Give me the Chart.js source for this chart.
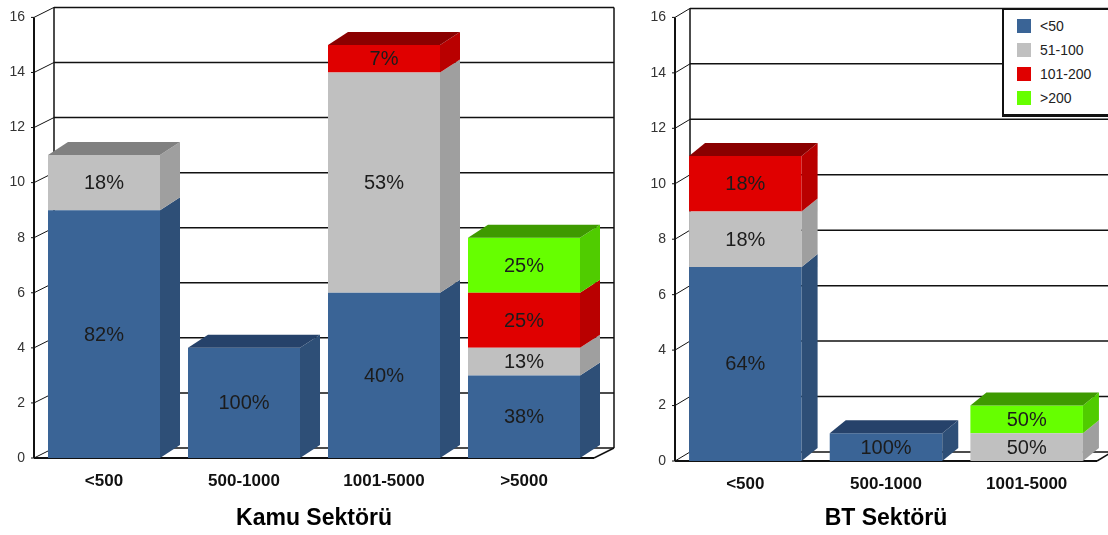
<!DOCTYPE html>
<html lang="tr">
<head>
<meta charset="utf-8">
<title>Kamu Sektörü / BT Sektörü</title>
<script src="https://cdn.jsdelivr.net/npm/chart.js@4.4.1/dist/chart.umd.min.js"></script>
<style>
    html, body { margin: 0; padding: 0; background: #fff; }
    #page { position: relative; width: 1108px; height: 535px; overflow: hidden; font-family: Arial, "Liberation Sans", sans-serif; }
    #kamuChart { position: absolute; left: 0; top: 0; }
    #btChart { position: absolute; left: 616px; top: 0; }
    #legend { position: absolute; left: 1002px; top: 8px; width: 130px; height: 104px; background: #fff; border: 2px solid #111; border-bottom-width: 3px; }
    #legend .item { position: absolute; left: 13px; height: 16px; line-height: 16px; font-size: 14px; color: #222; white-space: nowrap; }
    #legend .item span { position: absolute; left: 0; top: 1px; width: 14px; height: 14px; }
    #legend .item em { position: absolute; left: 23px; top: 0; font-style: normal; }
</style>
</head>
<body>
<div id="page">
    <canvas id="kamuChart" width="616" height="535"></canvas>
    <canvas id="btChart" width="492" height="535"></canvas>
    <div id="legend"></div>
</div>
<script>
// =============================================
// Veriler
// =============================================

var seriesNames = ["<50", "51-100", "101-200", ">200"];

var kamuCategories = ["<500", "500-1000", "1001-5000", ">5000"];
var kamuUnder50 = [9, 4, 6, 3];
var kamu51to100 = [2, 0, 8, 1];
var kamu101to200 = [0, 0, 1, 2];
var kamuOver200 = [0, 0, 0, 2];

var btCategories = ["<500", "500-1000", "1001-5000"];
var btUnder50 = [7, 1, 0];
var bt51to100 = [2, 0, 1];
var bt101to200 = [2, 0, 0];
var btOver200 = [0, 0, 1];

var yMax = 16;
var yStep = 2;

// renkler: ön yüz, yan yüz, üst yüz
var frontColors = ["#3A6496", "#C0C0C0", "#E00000", "#66FF00"];
var sideColors = ["#2E4F77", "#9F9F9F", "#B90000", "#50CC00"];
var topColors = ["#26426A", "#808080", "#8A0000", "#3E9A00"];

// =============================================
// 3B kutu eklentisi
// =============================================

function line(ctx, x1, y1, x2, y2) {
    ctx.beginPath();
    ctx.moveTo(x1, y1);
    ctx.lineTo(x2, y2);
    ctx.stroke();
}

function quad(ctx, pts, color) {
    ctx.beginPath();
    ctx.moveTo(pts[0], pts[1]);
    ctx.lineTo(pts[2], pts[3]);
    ctx.lineTo(pts[4], pts[5]);
    ctx.lineTo(pts[6], pts[7]);
    ctx.closePath();
    ctx.fillStyle = color;
    ctx.fill();
}

var box3d = {
    id: "box3d",
    beforeDatasetsDraw: function(chart, args, opts) {
        var ctx = chart.ctx;
        var area = chart.chartArea;
        var y = chart.scales.y;
        var dx = opts.wallDx, dy = opts.wallDy;
        var top = y.getPixelForValue(y.max);
        var bot = y.getPixelForValue(0);

        ctx.save();
        ctx.strokeStyle = "#111";
        ctx.lineWidth = 1.5;
        y.ticks.forEach(function(t) {
            var py = y.getPixelForValue(t.value);
            line(ctx, area.left + dx, py + dy, area.right + dx, py + dy);
            ctx.lineWidth = 1;
            line(ctx, area.left, py, area.left + dx, py + dy);
            line(ctx, area.left - 3, py, area.left, py);
            ctx.lineWidth = 1.5;
        });
        line(ctx, area.left + dx, top + dy, area.left + dx, bot + dy);
        line(ctx, area.right + dx, top + dy, area.right + dx, bot + dy);
        line(ctx, area.right, bot, area.right + dx, bot + dy);
        ctx.lineWidth = 2;
        line(ctx, area.left, top, area.left, bot);
        line(ctx, area.left, bot, area.right, bot);
        ctx.restore();
    },
    afterDatasetsDraw: function(chart, args, opts) {
        var ctx = chart.ctx;
        var dx = opts.dx, dy = opts.dy;
        var sets = chart.data.datasets;
        var totals = [];
        var topIdx = [];

        chart.data.labels.forEach(function(l, j) {
            totals[j] = 0;
            topIdx[j] = -1;
        });
        sets.forEach(function(ds, i) {
            ds.data.forEach(function(v, j) {
                totals[j] += v;
                if (v > 0) topIdx[j] = i;
            });
        });

        ctx.save();
        var labels = [];
        sets.forEach(function(ds, i) {
            var meta = chart.getDatasetMeta(i);
            meta.data.forEach(function(bar, j) {
                if (!ds.data[j]) return;
                var p = bar.getProps(["x", "y", "base", "width"], true);
                var l = p.x - p.width / 2;
                var r = p.x + p.width / 2;
                var t = Math.min(p.y, p.base);
                var b = Math.max(p.y, p.base);

                quad(ctx, [r, t, r + dx, t + dy, r + dx, b + dy, r, b], sideColors[i]);
                if (topIdx[j] === i) {
                    quad(ctx, [l, t, l + dx, t + dy, r + dx, t + dy, r, t], topColors[i]);
                }
                labels.push({
                    x: p.x,
                    y: (t + b) / 2,
                    text: Math.round(ds.data[j] / totals[j] * 100) + "%",
                });
            });
        });

        ctx.fillStyle = "#1c1c1c";
        ctx.font = "20px Arial, 'Liberation Sans', sans-serif";
        ctx.textAlign = "center";
        ctx.textBaseline = "middle";
        labels.forEach(function(lb) {
            ctx.fillText(lb.text, lb.x, lb.y + 1);
        });
        ctx.restore();
    },
};

// =============================================
// Grafik oluşturma
// =============================================

function makeDatasets(seriesList) {
    return seriesList.map(function(values, i) {
        return {
            label: seriesNames[i],
            data: values,
            backgroundColor: frontColors[i],
            borderWidth: 0,
            categoryPercentage: 0.8,
            barPercentage: 1.0,
        };
    });
}

function createChart(canvasId, categories, seriesList, title, cfg) {
    var ctx = document.getElementById(canvasId);
    return new Chart(ctx, {
        type: "bar",
        data: {
            labels: categories,
            datasets: makeDatasets(seriesList),
        },
        plugins: [box3d],
        options: {
            responsive: false,
            animation: false,
            layout: { padding: { top: cfg.top, right: cfg.right, bottom: 0, left: 0 } },
            plugins: {
                legend: { display: false },
                tooltip: { enabled: false },
                box3d: { dx: cfg.dx, dy: cfg.dy, wallDx: cfg.wallDx, wallDy: cfg.wallDy },
            },
            scales: {
                x: {
                    stacked: true,
                    grid: { display: false, drawTicks: false },
                    border: { display: false },
                    ticks: {
                        color: "#111",
                        padding: 13,
                        font: { family: "Arial, 'Liberation Sans', sans-serif", size: 17, weight: "bold" },
                    },
                    title: {
                        display: true,
                        text: title,
                        color: "#000",
                        padding: { top: 0, bottom: 3 },
                        font: { family: "Arial, 'Liberation Sans', sans-serif", size: 23, weight: "bold" },
                    },
                    afterFit: function(scale) {
                        scale.height = cfg.xHeight;
                    },
                },
                y: {
                    stacked: true,
                    min: 0,
                    max: yMax,
                    grid: { display: false, drawTicks: false },
                    border: { display: false },
                    ticks: {
                        stepSize: yStep,
                        color: "#333",
                        padding: 9,
                        font: { family: "Arial, 'Liberation Sans', sans-serif", size: 14 },
                    },
                    afterFit: function(scale) {
                        scale.width = cfg.yWidth;
                    },
                },
            },
        },
    });
}

createChart("kamuChart", kamuCategories,
    [kamuUnder50, kamu51to100, kamu101to200, kamuOver200],
    "Kamu Sektörü",
    { top: 15, right: 22, xHeight: 77, yWidth: 34, dx: 20, dy: -13, wallDx: 20, wallDy: -10 });

createChart("btChart", btCategories,
    [btUnder50, bt51to100, bt101to200, btOver200],
    "BT Sektörü",
    { top: 16, right: 11, xHeight: 74, yWidth: 59, dx: 16, dy: -13, wallDx: 15, wallDy: -9 });

// lejant
var legendBox = document.getElementById("legend");
seriesNames.forEach(function(name, i) {
    var item = document.createElement("div");
    item.className = "item";
    item.style.top = (8 + i * 24) + "px";
    item.innerHTML = '<span style="background:' + frontColors[i] + '"></span><em></em>';
    item.querySelector("em").textContent = name;
    legendBox.appendChild(item);
});
</script>
</body>
</html>
